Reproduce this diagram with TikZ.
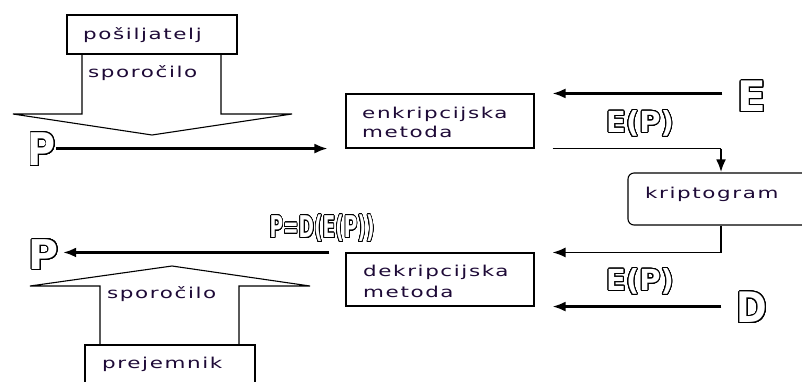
\documentclass[tikz,border=0pt]{standalone}
\usepackage{fontspec}
\usepackage{graphicx}
\usepackage{contour}
\usetikzlibrary{arrows.meta}
\newfontfamily\lblfont[LetterSpace=7.5]{DejaVu Sans}
\newfontfamily\olfont{DejaVu Sans Bold}
\contourlength{1pt}
\contournumber{32}
\definecolor{textc}{RGB}{30,10,55}
\newcommand\hs[1]{\scalebox{1.43}[1]{#1}}
\newcommand\olt[3]{\scalebox{#1}[1]{\olfont\fontsize{#2}{#2}\selectfont\color{white}\contour{black}{#3}}}
\tikzset{
  lbl/.style={font=\lblfont\fontsize{15}{17}\selectfont, text=textc, inner sep=0pt, anchor=base west},
  ol/.style={inner sep=0pt, anchor=center},
  boxn/.style={draw=black, line width=1.1pt, fill=white, inner sep=0pt},
  blk/.style={draw=black, line width=1.1pt, fill=white, line join=miter},
  arr/.style={line width=2.2pt, -{Latex[length=13pt,width=10pt]}},
}
\begin{document}
\begin{tikzpicture}[x=1pt, y=-1pt]
\useasboundingbox (0,0) rectangle (802,381);
\clip (0,0) rectangle (802,381);
% block arrows
\draw[blk] (82,54) -- (82,114) -- (13,114) -- (152,135) -- (292,114) -- (221,114) -- (221,54);
\draw[blk] (100,345) -- (100,286) -- (30,286) -- (172,266) -- (310,286) -- (239,286) -- (239,345);
% boxes
\node[boxn, minimum width=170pt, minimum height=39pt] (send) at (152,34.5) {};
\node[boxn, minimum width=170pt, minimum height=50pt] (recv) at (170,370) {};
\node[boxn, minimum width=188pt, minimum height=54pt] (enc) at (440,121) {};
\node[boxn, minimum width=188pt, minimum height=53pt] (dec) at (440,279.5) {};
\node[boxn, rounded corners=6pt, minimum width=200pt, minimum height=52pt] (krip) at (728,199) {};
% texts
\node[lbl] (tsend) at (83,39) {\hs{pošiljatelj}};
\node[lbl] (tspor1) at (88,77) {\hs{sporočilo}};
\node[lbl] (tenc1) at (362,118) {\hs{enkripcijska}};
\node[lbl] (tenc2) at (362,137) {\hs{metoda}};
\node[lbl] (tkrip) at (645,198) {\hs{kriptogram}};
\node[lbl] (tdec1) at (363,276) {\hs{dekripcijska}};
\node[lbl] (tdec2) at (363,297) {\hs{metoda}};
\node[lbl] (tspor2) at (107,298) {\hs{sporočilo}};
\node[lbl] (trecv) at (102,368) {\hs{prejemnik}};
% outline letters
\node[ol] (P1) at (42,150) {\olt{0.85}{45}{P}};
\node[ol] (E) at (752,97) {\olt{1}{42}{E}};
\node[ol] (D) at (752,308) {\olt{0.88}{42}{D}};
\node[ol] (P2) at (44,255) {\olt{1}{41}{P}};
\node[ol] (EP1) at (640,124) {\olt{1}{29}{E(P)}};
\node[ol] (EP2) at (640,282) {\olt{1}{29}{E(P)}};
\node[ol] (PD) at (322,229) {\olt{0.62}{30}{P=D(E(P))}};
% connectors
\coordinate (pstart) at (P1.east |- enc.south);
\draw[arr] (pstart) -- ([xshift=-18pt]enc.south west);
\draw[arr] ([xshift=-15pt]E.west |- enc.north) -- ([xshift=18pt]enc.north east);
\coordinate (kin) at ([xshift=-7pt]krip.north);
\coordinate (kbend) at (kin |- enc.south);
\draw[line width=1.4pt] ([xshift=18pt]enc.south east) -- (kbend);
\draw[arr, line width=2.8pt] (kbend) -- (kin);
\coordinate (kout) at ([xshift=-7pt]krip.south);
\draw[arr, line width=1.6pt] (kout) |- ([xshift=18pt]dec.north east);
\draw[arr] ([xshift=-15pt]D.west |- dec.south) -- ([xshift=18pt]dec.south east);
\draw[arr] ([xshift=-16pt]dec.north west) -- ([xshift=4pt]P2.east |- dec.north);
\end{tikzpicture}
\end{document}
